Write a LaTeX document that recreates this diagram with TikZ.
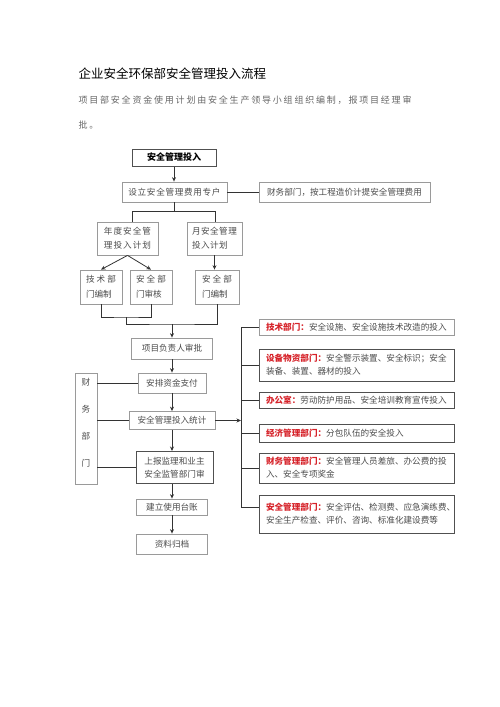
\documentclass[tikz,border=0pt]{standalone}
\usepackage{fontspec}
\setmainfont{Noto Sans CJK SC}
\usetikzlibrary{arrows.meta}
\definecolor{boxline}{HTML}{9A9A9A}
\definecolor{darkline}{HTML}{505050}
\definecolor{txt}{HTML}{4A4A4A}
\definecolor{connc}{HTML}{333333}
\definecolor{redlab}{HTML}{D6232A}
\definecolor{paratxt}{HTML}{666666}
\newcommand{\spreadline}[1]{\makebox[30pt][s]{#1}}
\newcommand{\redlab}[1]{\textcolor{redlab}{\bfseries #1}}
\begin{document}
\begin{tikzpicture}[x=1pt,y=-1pt,
  every node/.style={font=\fontsize{8.6}{13}\selectfont, text=txt},
  box/.style={draw=boxline, line width=0.8pt, inner sep=0pt, align=center},
  darkbox/.style={box, draw=darkline, line width=1pt},
  rbox/.style={draw=darkline, line width=0.9pt, inner xsep=7pt, inner ysep=0pt, text width=181pt, align=left, minimum width=195pt},
  conn/.style={draw=connc, line width=0.8pt},
  arr/.style={conn, -{Stealth[length=4.5pt,width=4pt]}}
]
\useasboundingbox (0,0) rectangle (500,707);

% title and paragraph
\node[anchor=west, font=\fontsize{12.5}{14}\selectfont, text=black] (title) at (75,74) {企业安全环保部安全管理投入流程};
\node[anchor=west, font=\fontsize{9}{12}\selectfont\addfontfeatures{LetterSpace=20}, text=paratxt] (p1) at (75,100) {项目部安全资金使用计划由安全生产领导小组组织编制，报项目经理审};
\node[anchor=west, font=\fontsize{9}{12}\selectfont\addfontfeatures{LetterSpace=20}, text=paratxt] (p2) at (75,125) {批。};

% top part
\node[darkbox, minimum width=84pt, minimum height=17pt, font=\fontsize{9}{11}\selectfont\bfseries, text=black] (top) at (174,157.5) {安全管理投入};
\node[box, minimum width=105pt, minimum height=20pt, font=\fontsize{8.6}{13}\selectfont\addfontfeatures{LetterSpace=8}] (acct) at (174.5,192) {设立安全管理费用专户};
\node[box, minimum width=171pt, minimum height=20pt] (fund) at (344.5,192) {财务部门，按工程造价计提安全管理费用};
\draw[arr] (top.south) -- (top.south |- acct.north);
\draw[conn] (acct.east) -- (fund.west);

\node[box, minimum width=61pt, minimum height=33pt, font=\fontsize{8.6}{14}\selectfont\addfontfeatures{LetterSpace=12}] (annual) at (127.5,238.5) {年度安全管\\理投入计划};
\node[box, minimum width=55pt, minimum height=33pt, align=left, font=\fontsize{8.6}{14}\selectfont\addfontfeatures{LetterSpace=5}] (monthly) at (214.5,238.5) {月安全管理\\投入计划};

\coordinate (sL) at (132,211);
\coordinate (sR) at (215,211);
\draw[conn] (acct.south) -- (acct.south |- sL);
\draw[conn] (sL |- annual.north) -- (sL) -- (sR) -- (sR |- monthly.north);

\node[box, minimum width=42pt, minimum height=34pt, align=left, font=\fontsize{8.6}{15}\selectfont] (tech) at (101,287) {\spreadline{技\hfill 术\hfill 部}\\门编制};
\node[box, minimum width=42pt, minimum height=34pt, align=left, font=\fontsize{8.6}{15}\selectfont] (audit) at (151,287) {\spreadline{安\hfill 全\hfill 部}\\门审核};
\node[box, minimum width=44pt, minimum height=34pt, align=left, font=\fontsize{8.6}{15}\selectfont] (dept) at (217,287) {\spreadline{安\hfill 全\hfill 部}\\门编制};

\draw[arr] (annual.south) -- (tech.north);
\draw[arr] (annual.south) -- (audit.north);
\draw[arr] (monthly.south) -- (monthly.south |- dept.north);

\coordinate (j1) at (126,317);
\coordinate (j2) at (172,324);
\draw[conn] (tech.south) |- (j1) -| (audit.south);
\draw[conn] (j1) |- (j2) -| (dept.south);

% main column
\node[box, minimum width=81pt, minimum height=21pt] (approve) at (172,348.5) {项目负责人审批};
\node[box, minimum width=68pt, minimum height=20pt] (pay) at (172,383) {安排资金支付};
\node[box, minimum width=86pt, minimum height=18pt] (stat) at (172,420.5) {安全管理投入统计};
\node[darkbox, minimum width=77pt, minimum height=32pt] (report) at (174.5,467.5) {上报监理和业主\\安全监管部门审};
\node[box, minimum width=71pt, minimum height=16pt] (ledger) at (172,507) {建立使用台账};
\node[box, minimum width=71pt, minimum height=20pt] (archive) at (172,544) {资料归档};

\draw[arr] (j2) -- (j2 |- approve.north);
\draw[arr] (approve.south) -- (approve.south |- pay.north);
\draw[arr] (pay.south) -- (pay.south |- stat.north);
\draw[arr] (stat.south) -- (stat.south |- report.north);
\draw[arr] (stat.south |- report.south) -- (stat.south |- ledger.north);
\draw[arr] (ledger.south) -- (ledger.south |- archive.north);

% finance side box
\node[box, minimum width=22pt, minimum height=111pt] (fin) at (86,428.5) {};
\node[align=center, inner sep=0pt, font=\fontsize{8.6}{27}\selectfont] (fintext) at (86,423) {财\\务\\部\\门};
\draw[conn] (fin.east |- pay.west) -- (pay.west);
\draw[conn] (fin.east |- stat.west) -- (stat.west);
\draw[conn] (fin.east |- report.west) -- (report.west);

% right side
\node[rbox, draw=boxline, minimum height=16pt] (r1) at (356.5,327.5) {\redlab{技术部门：}安全设施、安全设施技术改造的投入};
\node[rbox, minimum height=32pt] (r2) at (356.5,365) {\redlab{设备物资部门：}安全警示装置、安全标识；安全\\装备、装置、器材的投入};
\node[rbox, minimum height=16pt] (r3) at (356.5,400) {\redlab{办公室：}劳动防护用品、安全培训教育宣传投入};
\node[rbox, minimum height=18pt] (r4) at (356.5,433) {\redlab{经济管理部门：}分包队伍的安全投入};
\node[rbox, minimum height=30pt] (r5) at (356.5,468) {\redlab{财务管理部门：}安全管理人员差旅、办公费的投\\入、安全专项奖金};
\node[rbox, minimum height=38pt] (r6) at (356.5,514) {\redlab{安全管理部门：}安全评估、检测费、应急演练费、\\安全生产检查、评价、咨询、标准化建设费等};

\coordinate (tTop) at (241,327.5);
\coordinate (tBot) at (241,507);
\draw[conn] (r1.west) -- (tTop) -- (tBot) -- (tBot -| r6.west);
\foreach \n in {r2,r3,r4,r5} {\draw[conn] (tTop |- \n.west) -- (\n.west);}
\draw[arr] (stat.east) -- (stat.east -| tTop);
\end{tikzpicture}
\end{document}
